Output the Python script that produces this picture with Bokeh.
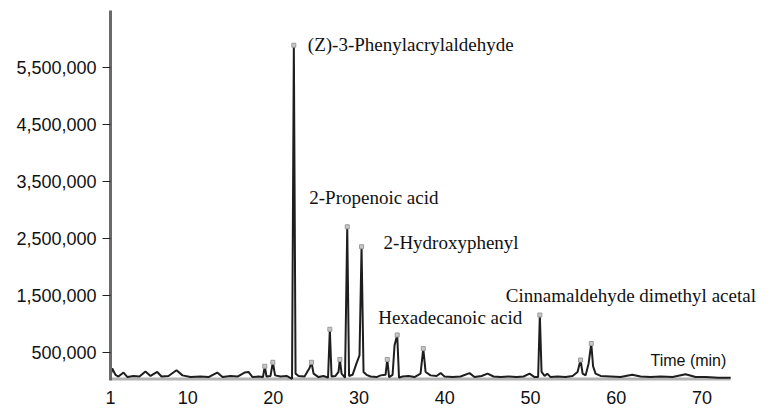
from bokeh.plotting import figure
from bokeh.models import FixedTicker, NumeralTickFormatter, Label, Range1d
from bokeh.embed import file_html
from bokeh.resources import INLINE

# ---- data ----
time_min = [1.00, 1.20, 1.58, 1.93, 2.52, 2.98, 3.68, 4.38, 5.08, 5.67, 6.45, 6.95,
            7.77, 8.70, 9.40, 10.33, 11.50, 12.44, 13.45, 14.07, 15.00, 15.82, 16.64,
            17.10, 17.57, 18.27, 18.79, 19.00, 19.20, 19.67, 19.94, 20.20, 20.84, 21.54,
            22.18, 22.39, 22.59, 22.94, 23.64, 24.22, 24.45, 24.69, 25.27, 25.85, 26.38,
            26.59, 26.79, 27.25, 27.60, 27.76, 27.96, 28.36, 28.62, 28.83, 29.24, 29.70,
            30.05, 30.29, 30.52, 30.87, 31.34, 32.04, 32.51, 33.09, 33.29, 33.50, 33.91,
            34.14, 34.45, 34.66, 35.07, 35.77, 36.47, 37.17, 37.49, 37.76, 38.34, 39.04,
            39.51, 39.97, 40.91, 41.84, 42.89, 43.47, 44.29, 44.99, 45.69, 46.51, 47.44,
            48.38, 49.19, 49.89, 50.48, 50.89, 51.09, 51.29, 51.64, 51.96, 52.34, 53.16,
            54.09, 54.91, 55.49, 55.84, 56.08, 56.43, 56.78, 57.09, 57.30, 57.59, 58.18,
            59.34, 60.51, 61.87, 62.84, 64.01, 65.18, 66.58, 68.09, 69.26, 70.43, 71.95,
            73.35]
intensity = [80000, 210000, 100000, 70000, 140000, 60000, 80000, 70000, 160000, 80000,
             150000, 70000, 80000, 180000, 90000, 60000, 70000, 60000, 140000, 60000,
             80000, 70000, 140000, 150000, 60000, 70000, 60000, 250000, 70000, 80000,
             320000, 90000, 70000, 80000, 30000, 5890000, 120000, 80000, 70000, 220000,
             320000, 120000, 60000, 80000, 50000, 900000, 70000, 80000, 150000, 370000,
             120000, 50000, 2700000, 80000, 100000, 300000, 440000, 2350000, 150000,
             100000, 70000, 60000, 90000, 100000, 370000, 60000, 100000, 620000, 800000,
             50000, 70000, 80000, 60000, 120000, 560000, 150000, 90000, 80000, 130000,
             70000, 60000, 70000, 130000, 60000, 80000, 120000, 70000, 60000, 70000,
             60000, 70000, 120000, 60000, 60000, 1150000, 150000, 80000, 120000, 60000,
             70000, 60000, 80000, 150000, 360000, 120000, 90000, 300000, 650000, 250000,
             120000, 80000, 70000, 60000, 100000, 70000, 60000, 70000, 60000, 110000,
             60000, 60000, 50000, 50000]

# peak tops marked with small grey caps
cap_time = [19.00, 19.94, 22.39, 24.45, 26.59, 27.76, 28.62, 30.29, 33.29, 34.45,
            37.49, 51.09, 55.84, 57.09]
cap_intensity = [250000, 320000, 5890000, 320000, 900000, 370000, 2700000, 2350000,
                 370000, 800000, 560000, 1150000, 360000, 650000]

# identified compounds
compound_names = ["(Z)-3-Phenylacrylaldehyde", "2-Propenoic acid", "2-Hydroxyphenyl",
                  "Hexadecanoic acid", "Cinnamaldehyde dimethyl acetal"]
compound_time = [22.39, 28.62, 30.29, 34.45, 51.09]
compound_intensity = [5890000, 2700000, 2350000, 800000, 1150000]

x_ticks = [1, 10, 20, 30, 40, 50, 60, 70]
y_ticks = [500000, 1500000, 2500000, 3500000, 4500000, 5500000]

# ---- figure ----
p = figure(width=764, height=406, output_backend="svg", toolbar_location=None,
           x_range=Range1d(1.0, 77.3), y_range=Range1d(0, 6500000),
           min_border_left=110, min_border_right=0, min_border_top=10,
           min_border_bottom=24)
p.outline_line_color = None
p.grid.visible = False
p.background_fill_color = "white"

# grey time baseline under the trace (spans the recorded run)
p.line([time_min[0], time_min[-1]], [0, 0], line_color="#b4b4b4", line_width=6)

p.line(time_min, intensity, line_color="#1e1e1e", line_width=2)
p.scatter(cap_time, cap_intensity, marker="square", size=4,
          fill_color="#c8c8c8", line_color="#9a9a9a", line_width=1)

# axes
p.xaxis.ticker = FixedTicker(ticks=x_ticks)
p.xaxis.major_tick_line_color = None
p.xaxis.minor_tick_line_color = None
p.xaxis.major_label_standoff = 4
p.xaxis.axis_line_color = None
p.xaxis.major_label_text_font = "Liberation Sans"
p.xaxis.major_label_text_font_size = "18px"
p.xaxis.major_label_text_color = "#111111"

p.yaxis.ticker = FixedTicker(ticks=y_ticks)
p.yaxis.formatter = NumeralTickFormatter(format="0,0")
p.yaxis.minor_tick_line_color = None
p.yaxis.major_tick_out = 8
p.yaxis.major_tick_in = 0
p.yaxis.major_tick_line_color = "#222222"
p.yaxis.major_tick_line_width = 1
p.yaxis.major_label_standoff = 6
p.yaxis.axis_line_color = "#6a6a6a"
p.yaxis.axis_line_width = 3
p.yaxis.major_label_text_font = "Liberation Sans"
p.yaxis.major_label_text_font_size = "18px"
p.yaxis.major_label_text_color = "#111111"

# axis titles
p.add_layout(Label(x=1.0, y=6050000, x_offset=-10, text="Intensity",
                   text_align="right", text_baseline="middle",
                   text_font="Liberation Sans", text_font_size="15px",
                   text_color="#111111"))
p.add_layout(Label(x=64.0, y=350000, text="Time (min)",
                   text_align="left", text_baseline="middle",
                   text_font="Liberation Sans", text_font_size="16px",
                   text_color="#111111"))

# compound annotations (pixel offsets from each peak top)
offsets = [(14, 1), (-38, 29), (22, 4), (-19, 17), (-34, 20)]
for name, t, h, (dx, dy) in zip(compound_names, compound_time, compound_intensity, offsets):
    p.add_layout(Label(x=t, y=h, x_offset=dx, y_offset=dy, text=name,
                       text_align="left", text_baseline="middle",
                       text_font="Liberation Serif", text_font_size="19px",
                       text_color="#111111"))

open("out.html", "w").write(file_html(p, INLINE))
